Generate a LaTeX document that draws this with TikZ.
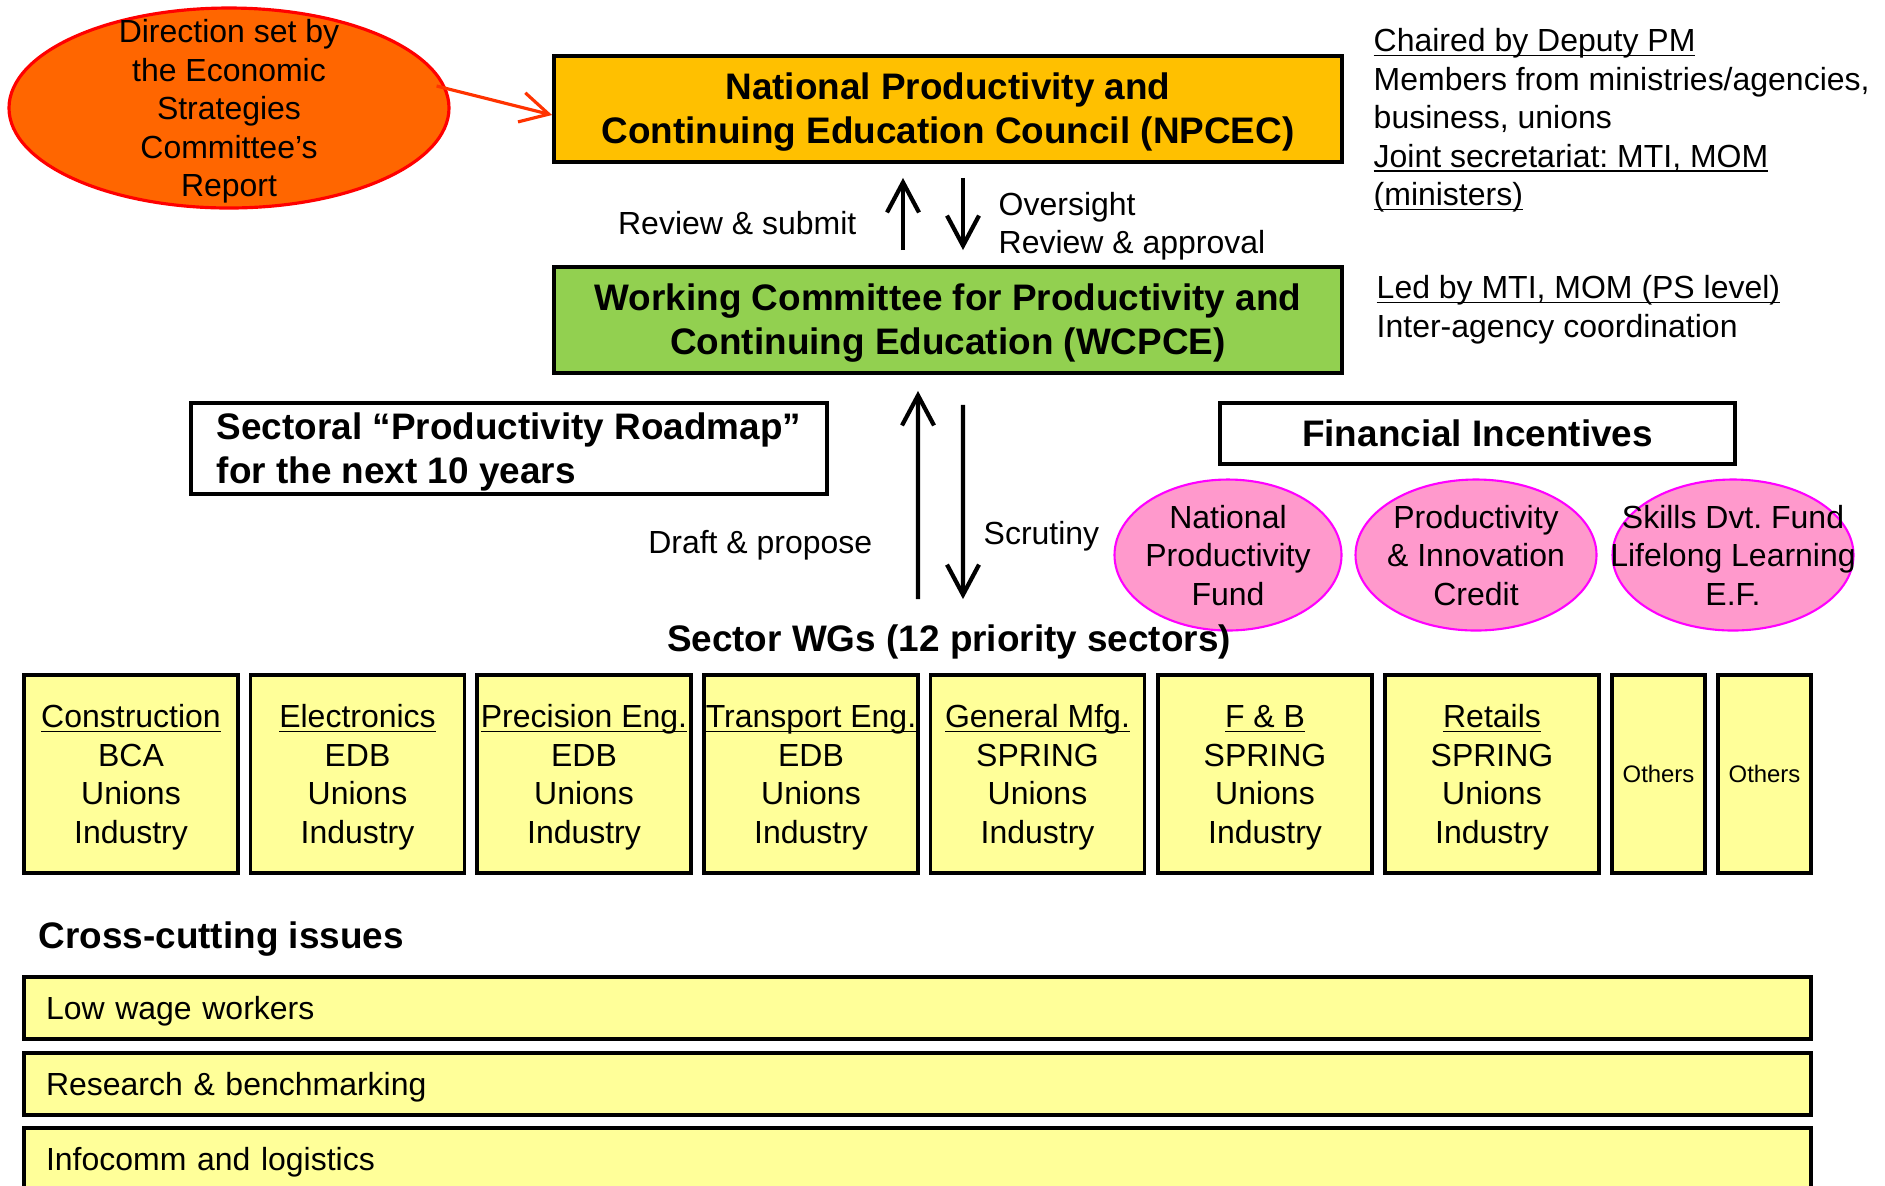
\documentclass[tikz,border=0pt]{standalone}
\usepackage{fontspec}
\setmainfont{Liberation Sans}
\usetikzlibrary{shapes.geometric,arrows.meta}

\definecolor{councilgold}{HTML}{FFC000}
\definecolor{committeegreen}{HTML}{92D050}
\definecolor{sectoryellow}{HTML}{FFFF99}
\definecolor{fundpink}{HTML}{FF99CC}
\definecolor{fundmagenta}{HTML}{FF00FF}
\definecolor{reportorange}{HTML}{FF6600}
\definecolor{reportred}{HTML}{FF0000}
\definecolor{pointerred}{HTML}{FF3300}

\newcommand{\regtext}{\fontsize{9.1}{10.95}\selectfont}
\newcommand{\boldtext}{\fontsize{10.5}{12.5}\selectfont\bfseries}
\newcommand{\smalltext}{\fontsize{6.8}{8.2}\selectfont}
% text block of no size, centred on the node (may spill over its shape)
\newcommand{\midtext}[2][c]{\makebox[0pt]{\smash{\raisebox{-0.37em}{\begin{tabular}{@{}#1@{}}#2\end{tabular}}}}}
% underlined line, rule close to the baseline
\newsavebox{\ulinebox}
\newcommand{\uln}[1]{\sbox{\ulinebox}{#1}\rlap{\rule[-1.3pt]{\wd\ulinebox}{0.5pt}}\usebox{\ulinebox}}

\tikzset{
  note/.style={inner sep=0pt, font=\regtext},
  heading/.style={inner sep=0pt, font=\boldtext},
  council/.style={draw, line width=1.1pt, fill=#1, minimum width=7.88cm, minimum height=1.06cm, inner sep=0pt, font=\boldtext},
  textbox/.style={draw, line width=1.1pt, fill=white, inner sep=0pt, font=\boldtext},
  reportoval/.style={ellipse, draw=reportred, line width=0.9pt, fill=reportorange, minimum width=4.4cm, minimum height=2.0cm, inner sep=0pt, font=\regtext},
  fundoval/.style={ellipse, draw=fundmagenta, line width=0.6pt, fill=fundpink, minimum width=#1, minimum height=1.51cm, inner sep=0pt, font=\regtext},
  sectorbox/.style={draw, line width=1.1pt, fill=sectoryellow, minimum width=2.14cm, minimum height=1.98cm, inner sep=0pt, font=\regtext},
  otherbox/.style={sectorbox, minimum width=0.93cm, font=\smalltext},
  issuebar/.style={draw, line width=1.1pt, fill=sectoryellow, text width=17.43cm, inner xsep=0.22cm, inner ysep=0pt, text height=6.6pt, text depth=0pt, minimum height=0.62cm, align=left, font=\regtext},
  flowarrow/.style={line width=1.2pt, -{Straight Barb[length=0.3cm,width=0.32cm]}},
  reportarrow/.style={pointerred, line width=0.9pt, -{Straight Barb[length=0.28cm,width=0.3cm]}}
}

\begin{document}
\frenchspacing
\begin{tikzpicture}
	\useasboundingbox (0,0) rectangle (18.85,-11.85);

	%% top of the structure
	\node[reportoval] (report) at (2.29,-1.08) {\midtext{Direction set by\\the Economic\\Strategies\\Committee’s\\Report}};
	\node[council=councilgold] (npcec) at (9.48,-1.09) {\midtext{National Productivity and\\Continuing Education Council (NPCEC)}};
	\node[council=committeegreen] (wcpce) at (9.48,-3.20) {\midtext{Working Committee for Productivity and\\Continuing Education (WCPCE)}};
	\draw[reportarrow] ([shift={(-0.14,0.22)}]report.east) -- ([yshift=-0.06cm]npcec.west);

	\node[note, anchor=north west, align=left] (npcecnote) at (13.73,-0.28) {\uln{Chaired by Deputy PM}\\Members from ministries/agencies,\\business, unions\\\uln{Joint secretariat: MTI, MOM}\\\uln{(ministers)}};
	\node[note, anchor=north west, align=left] (wcpcenote) at (13.76,-2.75) {\uln{Led by MTI, MOM (PS level)}\\Inter-agency coordination};

	\draw[flowarrow, shorten <=0.15cm, shorten >=0.14cm] ([xshift=-0.45cm]wcpce.north) -- ([xshift=-0.45cm]npcec.south);
	\draw[flowarrow, shorten <=0.14cm, shorten >=0.15cm] ([xshift=0.15cm]npcec.south) -- ([xshift=0.15cm]wcpce.north);
	\node[note, anchor=east] (reviewsubmit) at (8.57,-2.23) {Review \& submit};
	\node[note, anchor=west, align=left] (oversight) at (9.98,-2.26) {Oversight\\Review \& approval};

	%% middle row
	\node[textbox, minimum width=6.36cm, minimum height=0.91cm] (roadmap) at (5.09,-4.485) {\midtext[l]{Sectoral “Productivity Roadmap”\\for the next 10 years}};
	\node[textbox, minimum width=5.15cm, minimum height=0.61cm] (incentives) at (14.775,-4.335) {\midtext{Financial Incentives}};
	\node[fundoval=2.27cm] (npfund) at (12.28,-5.55) {\midtext{National\\Productivity\\Fund}};
	\node[fundoval=2.41cm] (picredit) at (14.76,-5.55) {\midtext{Productivity\\\& Innovation\\Credit}};
	\node[fundoval=2.41cm] (sdfund) at (17.33,-5.55) {\midtext{Skills Dvt. Fund\\Lifelong Learning\\E.F.}};

	\node[heading] (sectorwgs) at (9.49,-6.42) {Sector WGs (12 priority sectors)};
	\draw[flowarrow, shorten <=0.25cm, shorten >=0.16cm] ([xshift=-0.31cm]sectorwgs.north) -- ([xshift=-0.30cm]wcpce.south);
	\draw[flowarrow, shorten <=0.30cm, shorten >=0.25cm] ([xshift=0.15cm]wcpce.south) -- ([xshift=0.14cm]sectorwgs.north);
	\node[note, anchor=east] (draftpropose) at (8.73,-5.45) {Draft \& propose};
	\node[note, anchor=west] (scrutiny) at (9.83,-5.36) {Scrutiny};

	%% sector working groups
	\node[sectorbox] (construction) at (1.31,-7.74) {\midtext{\uln{Construction}\\BCA\\Unions\\Industry}};
	\node[sectorbox] (electronics) at (3.575,-7.74) {\midtext{\uln{Electronics}\\EDB\\Unions\\Industry}};
	\node[sectorbox] (precision) at (5.84,-7.74) {\midtext{\uln{Precision Eng.}\\EDB\\Unions\\Industry}};
	\node[sectorbox] (transport) at (8.11,-7.74) {\midtext{\uln{Transport Eng.}\\EDB\\Unions\\Industry}};
	\node[sectorbox] (generalmfg) at (10.375,-7.74) {\midtext{\uln{General Mfg.}\\SPRING\\Unions\\Industry}};
	\node[sectorbox] (foodbev) at (12.65,-7.74) {\midtext{\uln{F \& B}\\SPRING\\Unions\\Industry}};
	\node[sectorbox] (retails) at (14.92,-7.74) {\midtext{\uln{Retails}\\SPRING\\Unions\\Industry}};
	\node[otherbox] (othersa) at (16.585,-7.74) {\midtext{Others}};
	\node[otherbox] (othersb) at (17.645,-7.74) {\midtext{Others}};

	%% cross-cutting issues
	\node[heading, anchor=west] (crosscut) at (0.38,-9.39) {Cross-cutting issues};
	\node[issuebar] (lowwage) at (9.175,-10.08) {Low wage workers};
	\node[issuebar] (research) at (9.175,-10.84) {Research \& benchmarking};
	\node[issuebar] (infocomm) at (9.175,-11.59) {Infocomm and logistics};
\end{tikzpicture}
\end{document}
